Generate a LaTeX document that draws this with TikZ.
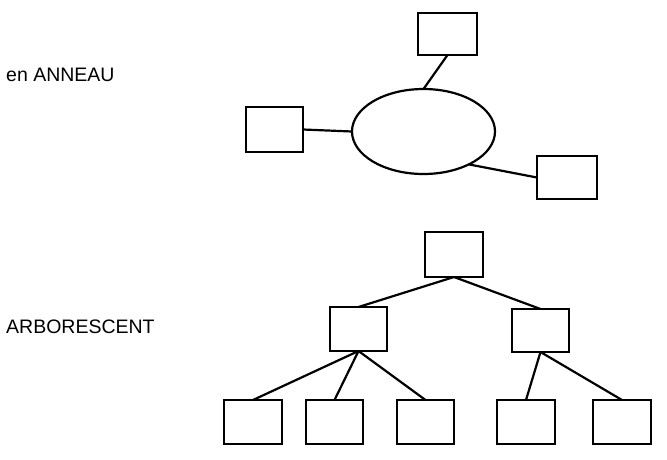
\documentclass[tikz,border=0pt]{standalone}
\usepackage{fontspec}
\setmainfont{Liberation Sans}
\usetikzlibrary{shapes.geometric}
\begin{document}
\begin{tikzpicture}[x=1pt,y=-1pt,
  box/.style={draw,rectangle,line width=2.2pt,minimum width=58pt,minimum height=44pt,inner sep=0pt,outer sep=0pt},
  ring/.style={draw,ellipse,line width=2.2pt,minimum width=143pt,minimum height=85pt,inner sep=0pt,outer sep=0pt},
  link/.style={line width=2.2pt},
  lbl/.style={anchor=base west,inner sep=0pt,font=\fontsize{19.5}{23}\selectfont}]
\useasboundingbox (0,0) rectangle (667,459);
\node[lbl] (l1) at (6,81) {en ANNEAU};
\node[lbl] (l2) at (6,333) {ARBORESCENT};
% ring
\node[ring] (rg) at (423.5,131.5) {};
\node[box,minimum width=59pt,minimum height=42pt] (t1) at (447.5,34) {};
\node[box,minimum width=57pt,minimum height=45pt] (t2) at (274.5,129.5) {};
\node[box,minimum width=60pt,minimum height=43pt] (t3) at (567,177.5) {};
\draw[link] (t1.south) -- (rg.north);
\draw[link] (t2.east) -- (rg.west);
\draw[link] (rg.-36) -- (t3.west);
% tree
\node[box,minimum height=45pt] (r) at (454,254.5) {};
\node[box,minimum width=57pt] (a) at (358.5,329) {};
\node[box,minimum width=57pt,minimum height=43pt] (b) at (540.5,330.5) {};
\node[box] (c1) at (253,422) {};
\node[box,minimum width=57pt] (c2) at (334.5,422) {};
\node[box,minimum width=57pt] (c3) at (425.5,422) {};
\node[box] (c4) at (526,422) {};
\node[box] (c5) at (622,422) {};
\draw[link] (r.south) -- (a.north);
\draw[link] (r.south) -- (b.north);
\draw[link] (a.south) -- (c1.north);
\draw[link] (a.south) -- (c2.north);
\draw[link] (a.south) -- (c3.north);
\draw[link] (b.south) -- (c4.north);
\draw[link] (b.south) -- (c5.north);
\end{tikzpicture}
\end{document}
